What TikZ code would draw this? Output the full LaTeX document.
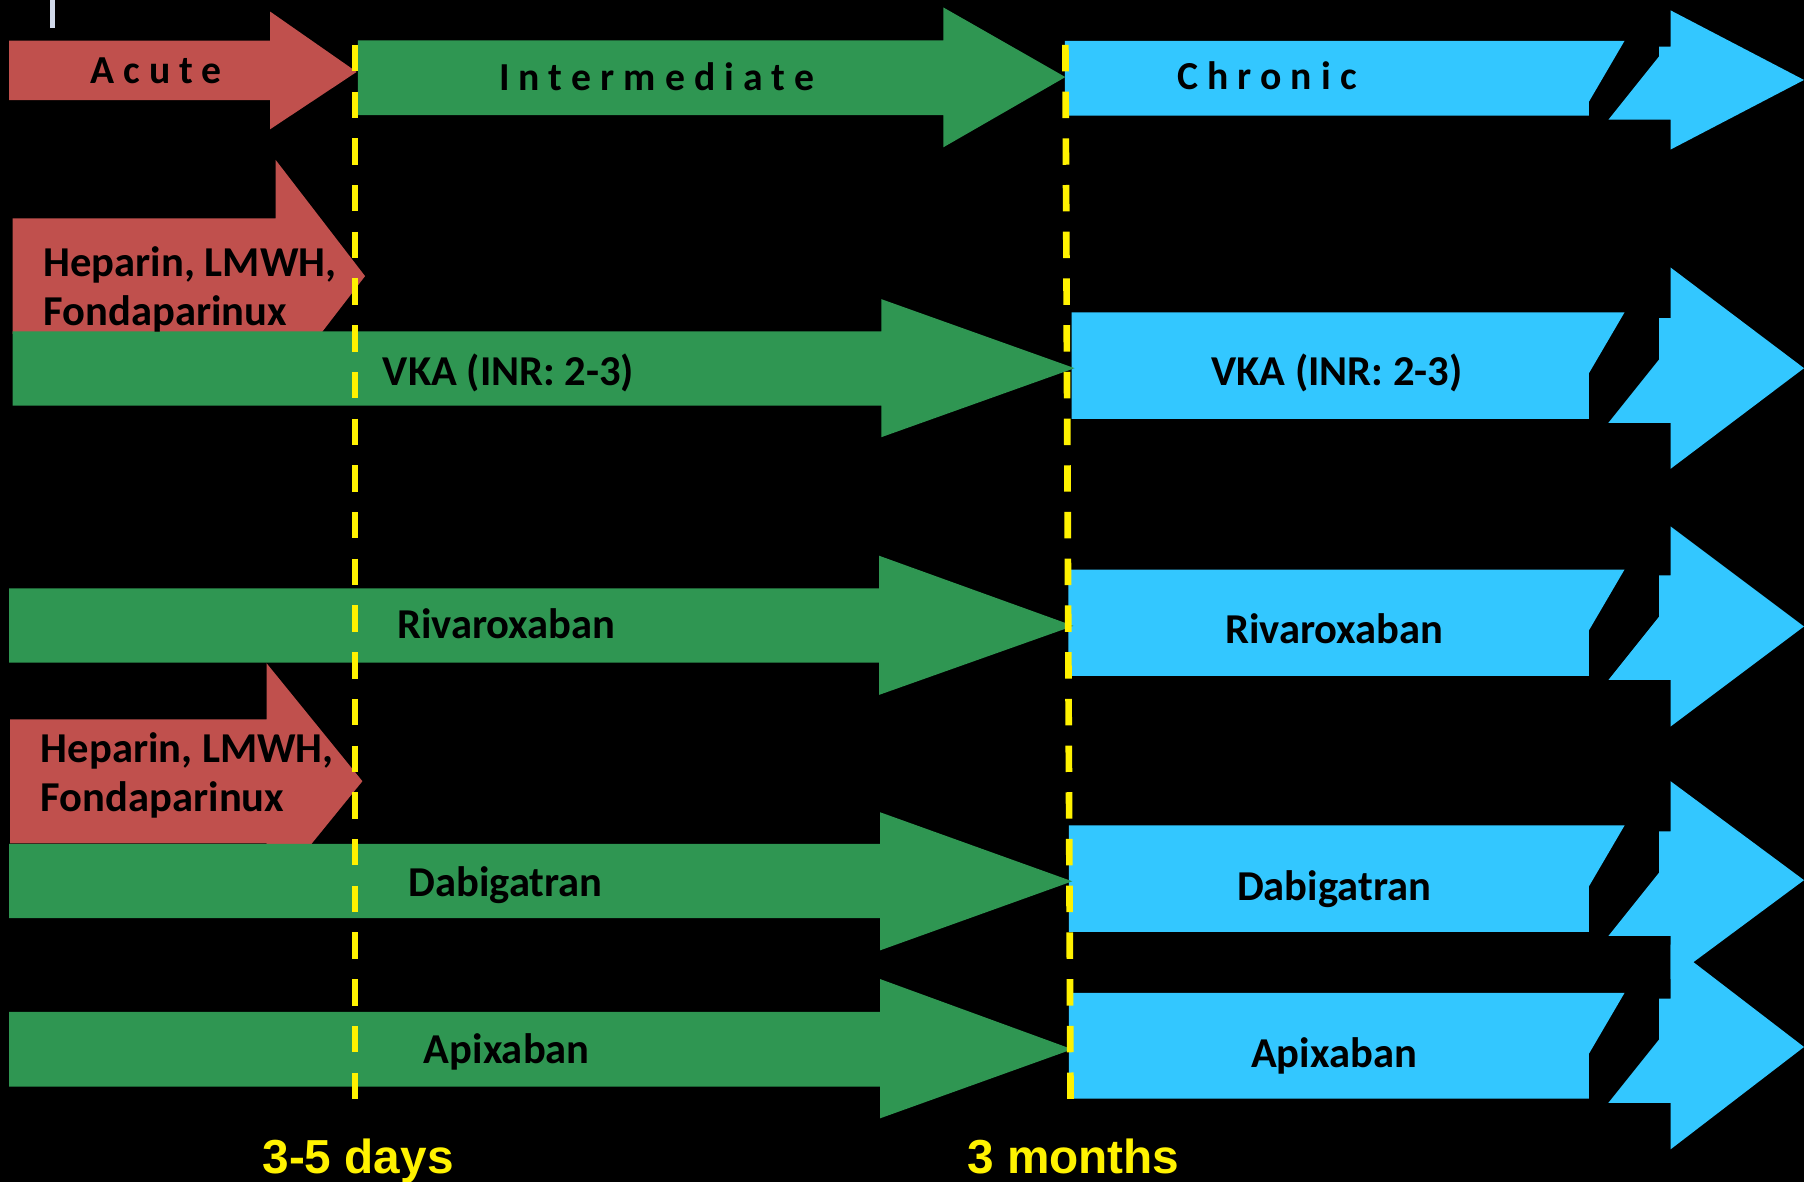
\documentclass[tikz,border=0pt]{standalone}
\usepackage{fontspec}
\newfontfamily\drugfont{Carlito}
\newfontfamily\phasefont{Carlito}[LetterSpace=23]
\newfontfamily\datefont{Liberation Sans}
\definecolor{acutered}{RGB}{192,80,77}
\definecolor{midgreen}{RGB}{47,150,82}
\definecolor{chronblue}{RGB}{51,199,255}
\definecolor{tickgray}{RGB}{210,218,235}

\begin{document}
\begin{tikzpicture}[x=1pt,y=-1pt]
\tikzset{acute/.style={fill=acutered}}
\tikzset{interm/.style={fill=midgreen}}
\tikzset{chron/.style={fill=chronblue}}
\tikzset{limit/.style={draw=yellow,line width=5.8pt,dash pattern=on 23pt off 17.6pt}}
\tikzset{drug/.style={font=\drugfont\bfseries\fontsize{37}{42.5}\selectfont,inner sep=0pt,text=black}}
\tikzset{phase/.style={font=\phasefont\bfseries\fontsize{34.5}{40}\selectfont,inner sep=0pt,text=black,anchor=base west}}
\tikzset{when/.style={font=\datefont\bfseries\fontsize{41.5}{50}\selectfont,inner sep=0pt,text=yellow,anchor=base west}}
\useasboundingbox (0,0) rectangle (1568,1027);
\clip (0,0) rectangle (1568,1027);
\fill[black] (0,0) rectangle (1568,1027);
\fill[tickgray] (43.5,0) rectangle (47.5,24);
% chronic phase, broken arrows
\fill[chron] (925.5,35.5) -- (1412,35.5) -- (1381,88.5) -- (1381,100.5) -- (925.5,100.5) -- cycle;
\fill[chron] (1398,104) -- (1442,49) -- (1442,40.5) -- (1452,40.5) -- (1452,9) -- (1568,69.5) -- (1452,130) -- (1452,104) -- cycle;
\fill[chron] (931.5,271.5) -- (1412,271.5) -- (1381,324.5) -- (1381,364) -- (931.5,364) -- cycle;
\fill[chron] (1398,367.5) -- (1442,312.5) -- (1442,276.5) -- (1452,276.5) -- (1452,232.5) -- (1568,320) -- (1452,407.5) -- (1452,367.5) -- cycle;
\fill[chron] (928.5,495) -- (1412,495) -- (1381,548) -- (1381,587.5) -- (928.5,587.5) -- cycle;
\fill[chron] (1398,591) -- (1442,536) -- (1442,500) -- (1452,500) -- (1452,457.5) -- (1568,544.5) -- (1452,631.5) -- (1452,591) -- cycle;
\fill[chron] (929,717.5) -- (1412,717.5) -- (1381,770.5) -- (1381,810) -- (929,810) -- cycle;
\fill[chron] (1398,813.5) -- (1442,758.5) -- (1442,722.5) -- (1452,722.5) -- (1452,679) -- (1568,765) -- (1452,851) -- (1452,813.5) -- cycle;
\fill[chron] (929,863) -- (1412,863) -- (1381,916) -- (1381,955) -- (929,955) -- cycle;
\fill[chron] (1398,958.5) -- (1442,903.5) -- (1442,868) -- (1452,868) -- (1452,821) -- (1568,910) -- (1452,999) -- (1452,958.5) -- cycle;
% acute phase
\fill[acute] (8,35.4) -- (234.7,35.4) -- (234.7,10) -- (310,62.5) -- (234.7,112.4) -- (234.7,87) -- (8,87) -- cycle;
\fill[acute] (11,189.7) -- (239.6,189.7) -- (239.6,139) -- (317.3,240) -- (239.6,341) -- (239.6,290.3) -- (11,290.3) -- cycle;
\fill[acute] (8.7,625.2) -- (231.8,625.2) -- (231.8,576.6) -- (315,679) -- (231.8,781.4) -- (231.8,733) -- (8.7,733) -- cycle;
% intermediate phase
\fill[interm] (311,35) -- (820,35) -- (820,6.5) -- (926,67) -- (820,128) -- (820,100) -- (311,100) -- cycle;
\fill[interm] (11,288) -- (766,288) -- (766,260) -- (934,320) -- (766,380) -- (766,352.5) -- (11,352.5) -- cycle;
\fill[interm] (8,511.5) -- (764,511.5) -- (764,483) -- (933,544) -- (764,604) -- (764,576) -- (8,576) -- cycle;
\fill[interm] (8,733.5) -- (765,733.5) -- (765,706) -- (932,766) -- (765,826) -- (765,798) -- (8,798) -- cycle;
\fill[interm] (8,879.5) -- (765,879.5) -- (765,851) -- (932,912) -- (765,972) -- (765,944.5) -- (8,944.5) -- cycle;
% time limits
\draw[limit] (308.5,39) -- (308.5,962);
\draw[limit] (926,39) -- (930.5,962);
\node[phase] (acutelbl) at (78.2,72.4) {Acute};
\node[phase] (intermlbl) at (433.7,78.8) {Intermediate};
\node[phase] (chronlbl) at (1023,77.6) {Chronic};
\node[drug,anchor=base west,align=left] (hepA) at (37.7,283) {Heparin, LMWH,\\Fondaparinux};
\node[drug,anchor=base west,align=left] (hepB) at (35.4,705.5) {Heparin, LMWH,\\Fondaparinux};
\node[drug,anchor=base] (vka) at (442,335.5) {VKA (INR: 2-3)};
\node[drug,anchor=base] (vkachr) at (1162,335.5) {VKA (INR: 2-3)};
\node[drug,anchor=base] (riva) at (440,555) {Rivaroxaban};
\node[drug,anchor=base] (rivachr) at (1159.7,559.5) {Rivaroxaban};
\node[drug,anchor=base] (dabi) at (439.5,779) {Dabigatran};
\node[drug,anchor=base] (dabichr) at (1159.5,783) {Dabigatran};
\node[drug,anchor=base] (apix) at (440.5,924) {Apixaban};
\node[drug,anchor=base] (apixchr) at (1159.5,927.5) {Apixaban};
\node[when] (days) at (228,1020) {3-5 days};
\node[when] (months) at (840.5,1020) {3 months};
\end{tikzpicture}
\end{document}
